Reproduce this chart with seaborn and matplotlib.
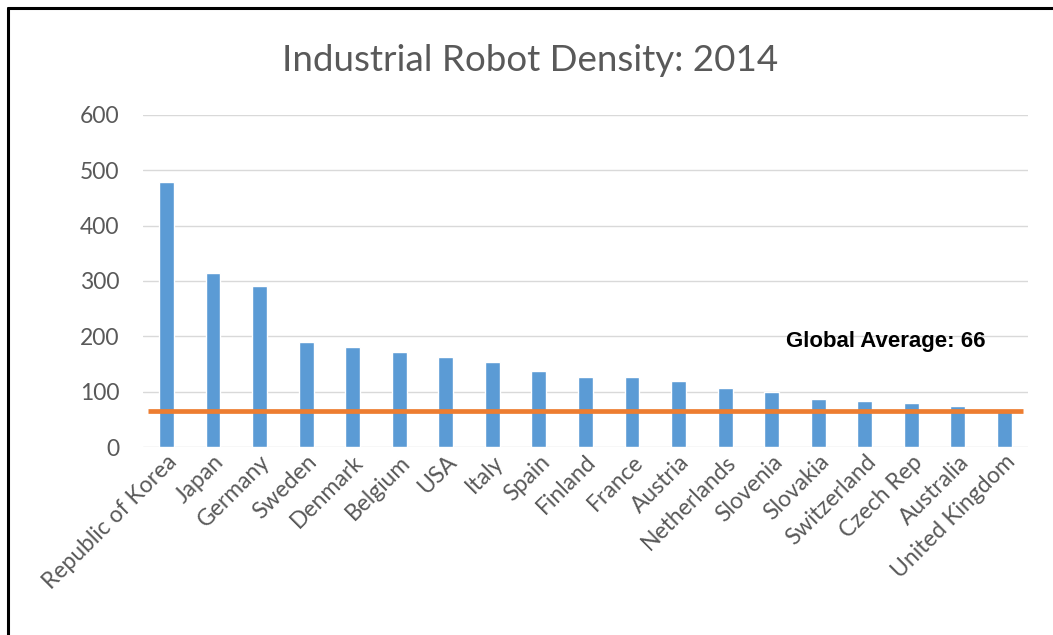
import matplotlib
matplotlib.use("Agg")
import matplotlib.pyplot as plt
from matplotlib.lines import Line2D
import seaborn as sns
import pandas as pd

countries = ["Republic of Korea", "Japan", "Germany", "Sweden", "Denmark", "Belgium",
             "USA", "Italy", "Spain", "Finland", "France", "Austria", "Netherlands",
             "Slovenia", "Slovakia", "Switzerland", "Czech Rep", "Australia",
             "United Kingdom"]
robots_per_10k = [478, 314, 291, 189, 180, 171, 163, 154, 138, 126, 126, 120, 106,
                  100, 86, 83, 80, 74, 69]
global_average = 66
title = "Industrial Robot Density: 2014"
avg_label = f"Global Average: {global_average}"

sns.set_theme(style="white")
plt.rcParams["font.family"] = ["Lato", "DejaVu Sans"]

df = pd.DataFrame({"country": countries, "density": robots_per_10k})

fig = plt.figure(figsize=(10.53, 6.35), dpi=100)
ax = fig.add_axes([0.136, 0.296, 0.840, 0.523])

sns.barplot(data=df, x="country", y="density", color="#5B9BD5", saturation=1,
            width=0.32, ax=ax, zorder=3)

ax.axhline(global_average, xmin=0.005, xmax=0.995, color="#ED7D31", lw=3.4,
           zorder=4, solid_capstyle="butt")
ax.text(15.45, 190, avg_label, ha="center", va="center", fontsize=16,
        fontweight="bold", color="black", family=["Liberation Sans", "DejaVu Sans"])

ax.set_ylim(0, 600)
ax.set_xlim(-0.5, len(countries) - 0.5)
ax.set_yticks(range(0, 601, 100))
ax.yaxis.grid(True, color="#D9D9D9", lw=1)
ax.set_axisbelow(True)
for s in ax.spines.values():
    s.set_visible(False)
ax.set_xlabel("")
ax.set_ylabel("")
ax.tick_params(axis="both", length=0, colors="#595959", labelsize=16.5)
ax.tick_params(axis="y", pad=17)
ax.tick_params(axis="x", pad=3)
plt.setp(ax.get_xticklabels(), rotation=45, ha="right", rotation_mode="anchor")

fig.text(0.503, 0.905, title, ha="center", va="center", fontsize=26.5, color="#595959")

# frame on the top and left edges
fig.add_artist(Line2D([0.0075, 1.0], [0.9875, 0.9875], color="black", lw=2.2,
                      transform=fig.transFigure))
fig.add_artist(Line2D([0.0075, 0.0075], [0.0, 0.9875], color="black", lw=2.2,
                      transform=fig.transFigure))

fig.savefig("out.png", dpi=100, facecolor="white")
